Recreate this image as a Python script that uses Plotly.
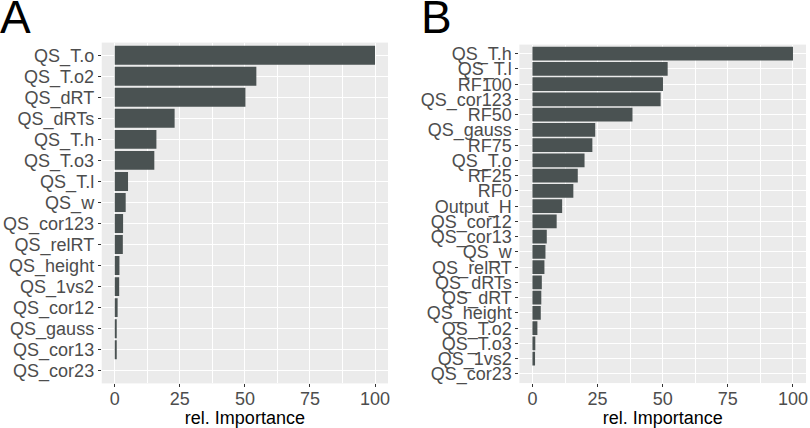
import plotly.graph_objects as go

# Panel A (top to bottom)
cats_a = ["QS_T.o", "QS_T.o2", "QS_dRT", "QS_dRTs", "QS_T.h", "QS_T.o3", "QS_T.l", "QS_w",
          "QS_cor123", "QS_relRT", "QS_height", "QS_1vs2", "QS_cor12", "QS_gauss", "QS_cor13", "QS_cor23"]
vals_a = [100, 54.4, 50.2, 23.0, 16.0, 15.2, 5.1, 4.2, 3.2, 3.1, 1.8, 1.7, 1.1, 0.6, 0.4, 0.0]

# Panel B (top to bottom)
cats_b = ["QS_T.h", "QS_T.l", "RF100", "QS_cor123", "RF50", "QS_gauss", "RF75", "QS_T.o", "RF25", "RF0",
          "Output_H", "QS_cor12", "QS_cor13", "QS_w", "QS_relRT", "QS_dRTs", "QS_dRT", "QS_height",
          "QS_T.o2", "QS_T.o3", "QS_1vs2", "QS_cor23"]
vals_b = [100, 51.9, 50.1, 49.2, 38.4, 24.1, 23.0, 20.0, 17.4, 15.7, 11.4, 9.3, 5.5, 5.0, 4.6, 3.6, 3.4,
          3.2, 1.9, 1.1, 1.0, 0.0]

x_ticks = [0, 25, 50, 75, 100]
x_title = "rel. Importance"
panel_labels = ["A", "B"]

BAR = "#4A5252"
BG = "#EBEBEB"
FONT = "Liberation Sans, Arial, Helvetica, sans-serif"

fig = go.Figure()
fig.add_trace(go.Bar(x=vals_a, y=cats_a, orientation="h", marker=dict(color=BAR, line=dict(width=0)),
                     xaxis="x", yaxis="y", showlegend=False))
fig.add_trace(go.Bar(x=vals_b, y=cats_b, orientation="h", marker=dict(color=BAR, line=dict(width=0)),
                     xaxis="x2", yaxis="y2", showlegend=False))


def xax(domain, anchor):
    return dict(domain=domain, anchor=anchor, range=[-5, 105], tickmode="array", tickvals=x_ticks,
                ticktext=[str(v) for v in x_ticks], showgrid=True, gridcolor="white", gridwidth=1.2,
                minor=dict(tickmode="array", tickvals=[12.5, 37.5, 62.5, 87.5], showgrid=True,
                           gridcolor="white", gridwidth=0.6, ticks=""),
                zeroline=False, showline=False, ticks="outside", ticklen=3, tickcolor="#333333",
                tickwidth=1, tickfont=dict(family=FONT, size=18, color="#4D4D4D"),
                ticklabelstandoff=-4,
                title=dict(text=x_title, font=dict(family=FONT, size=18, color="black"), standoff=6),
                fixedrange=True)


def yax(domain, anchor, cats):
    n = len(cats)
    return dict(domain=domain, anchor=anchor, type="category", categoryorder="array",
                categoryarray=cats, tickmode="array", tickvals=cats, ticktext=cats,
                range=[n - 0.4, -0.6], showgrid=True, gridcolor="white",
                gridwidth=1.2, zeroline=False, showline=False, ticks="outside", ticklen=3,
                tickcolor="#333333", tickwidth=1,
                tickfont=dict(family=FONT, size=18, color="#4D4D4D"), fixedrange=True)


fig.update_layout(
    width=810, height=428, margin=dict(l=0, r=0, t=0, b=0),
    paper_bgcolor="white", plot_bgcolor=BG, bargap=0.1,
    xaxis=xax([102 / 810, 389 / 810], "y"),
    yaxis=yax([41 / 428, 385 / 428], "x", cats_a),
    xaxis2=xax([520.7 / 810, 808 / 810], "y2"),
    yaxis2=yax([41.3 / 428, 383 / 428], "x2", cats_b),
    annotations=[
        dict(text=panel_labels[0], x=0, y=1 - 17 / 428, xref="paper", yref="paper", xanchor="left",
             yanchor="middle", showarrow=False, font=dict(family=FONT, size=46, color="black"), xshift=-2),
        dict(text=panel_labels[1], x=420 / 810, y=1 - 17 / 428, xref="paper", yref="paper",
             xanchor="left", yanchor="middle", showarrow=False,
             font=dict(family=FONT, size=46, color="black")),
    ],
)

fig.write_html("out.html", config={"displayModeBar": False},
               post_script="document.body.style.margin='0';document.body.style.overflow='hidden';")
